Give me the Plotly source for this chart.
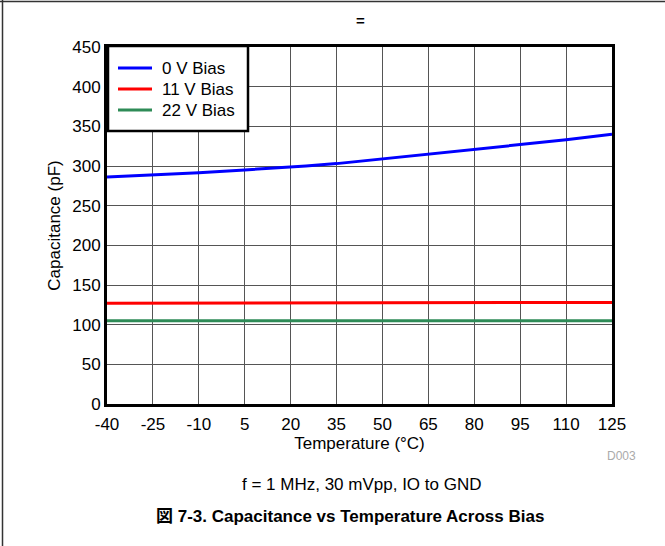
import plotly.graph_objects as go

temps = [-40, -25, -10, 5, 20, 25, 35, 50, 65, 80, 95, 110, 125]
cap_0v = [286, 288.5, 291.5, 295, 298.5, 300, 303, 309, 315, 321, 327, 333, 340]
temps_flat = [-40, 125]
cap_11v = [127, 128]
cap_22v = [105, 105]
series_names = ["0 V Bias", "11 V Bias", "22 V Bias"]
series_colors = ["#0000ff", "#ff0000", "#2e8b57"]
x_ticks = [-40, -25, -10, 5, 20, 35, 50, 65, 80, 95, 110, 125]
y_ticks = [0, 50, 100, 150, 200, 250, 300, 350, 400, 450]

W, H = 665, 546
ML, MR, MT, MB = 107, 53, 47, 142
PW, PH = W - ML - MR, H - MT - MB

def px(x):
    return (x - ML) / PW

def py(y):
    return 1 - (y - MT) / PH

font = "Liberation Sans, Arial, sans-serif"

fig = go.Figure()
for xs, ys, nm, col in zip([temps, temps_flat, temps_flat], [cap_0v, cap_11v, cap_22v],
                           series_names, series_colors):
    fig.add_trace(go.Scatter(x=xs, y=ys, mode="lines", name=nm, showlegend=False,
                             line=dict(color=col, width=3)))

fig.update_layout(
    width=W, height=H,
    margin=dict(l=ML, r=MR, t=MT, b=MB),
    paper_bgcolor="white", plot_bgcolor="white",
    font=dict(family=font, size=17, color="black"),
    xaxis=dict(range=[-40, 125], tickvals=x_ticks, ticktext=[str(v) for v in x_ticks],
               showgrid=True, gridcolor="#555555", gridwidth=1,
               showline=True, linecolor="black", linewidth=3, mirror=True,
               ticks="outside", ticklen=3, tickcolor="rgba(0,0,0,0)",
               zeroline=False, tickfont=dict(size=17),
               title=dict(text="Temperature (°C)", font=dict(size=17), standoff=2)),
    yaxis=dict(range=[0, 450], tickvals=y_ticks,
               showgrid=True, gridcolor="#555555", gridwidth=1,
               showline=True, linecolor="black", linewidth=3, mirror=True,
               ticks="", zeroline=False, tickfont=dict(size=17),
               title=dict(text="Capacitance (pF)", font=dict(size=17), standoff=8)),
)

# legend box (drawn manually to match the reference layout)
fig.add_shape(type="rect", xref="paper", yref="paper", x0=px(108), x1=px(248),
              y0=py(46), y1=py(131), fillcolor="white", line=dict(color="black", width=2.5),
              layer="above")
for i, (nm, col) in enumerate(zip(series_names, series_colors)):
    yy = 68 + 21 * i
    fig.add_shape(type="line", xref="paper", yref="paper", x0=px(118), x1=px(152),
                  y0=py(yy), y1=py(yy), line=dict(color=col, width=3), layer="above")
    fig.add_annotation(text=nm, x=px(160), y=py(yy), xref="paper", yref="paper",
                       xanchor="left", yanchor="middle", showarrow=False,
                       font=dict(size=17))

fig.add_annotation(text="<b>=</b>", x=px(360), y=py(10), xref="paper", yref="paper",
                   showarrow=False, font=dict(size=15))
fig.add_annotation(text="D003", x=px(638), y=py(465), xref="paper", yref="paper",
                   showarrow=False, font=dict(size=12, color="#aaaaaa"))
fig.add_annotation(text="f = 1 MHz, 30 mVpp, IO to GND", x=px(362), y=py(496),
                   xref="paper", yref="paper", showarrow=False, font=dict(size=17))
fig.add_annotation(text="<b>図 7-3. Capacitance vs Temperature Across Bias</b>",
                   x=px(350), y=py(528), xref="paper", yref="paper", showarrow=False,
                   font=dict(size=17, family="Liberation Sans, Noto Sans CJK JP, sans-serif"))

# outer frame lines (top and left)
fig.add_shape(type="line", xref="paper", yref="paper", x0=px(0), x1=px(665),
              y0=py(1.5), y1=py(1.5), line=dict(color="#333333", width=1.5))
fig.add_shape(type="line", xref="paper", yref="paper", x0=px(2.5), x1=px(2.5),
              y0=py(0), y1=py(546), line=dict(color="#333333", width=1.5))

fig.write_html("out.html")
